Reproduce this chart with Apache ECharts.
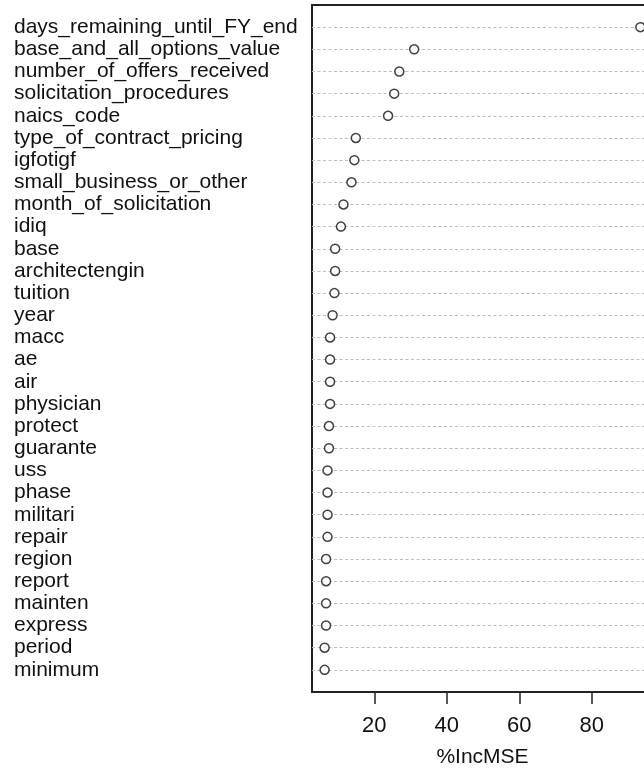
<!DOCTYPE html>
<html>
<head>
<meta charset="utf-8">
<script src="https://cdn.jsdelivr.net/npm/echarts@6/dist/echarts.min.js"></script>
<style>
  html, body { margin: 0; padding: 0; background: #fff; }
  #chart { width: 644px; height: 770px; }
</style>
</head>
<body>
<div id="chart"></div>
<script>
// variable importance (%IncMSE), top to bottom
var labels = [
  'days_remaining_until_FY_end', 'base_and_all_options_value', 'number_of_offers_received',
  'solicitation_procedures', 'naics_code', 'type_of_contract_pricing', 'igfotigf',
  'small_business_or_other', 'month_of_solicitation', 'idiq', 'base', 'architectengin',
  'tuition', 'year', 'macc', 'ae', 'air', 'physician', 'protect', 'guarante', 'uss',
  'phase', 'militari', 'repair', 'region', 'report', 'mainten', 'express', 'period', 'minimum'
];
var values = [
  93.4, 31.0, 26.9, 25.5, 23.8, 14.9, 14.5, 13.7, 11.5, 10.8,
  9.2, 9.2, 9.0, 8.5, 7.8, 7.8, 7.8, 7.8, 7.5, 7.5,
  7.1, 7.1, 7.1, 7.1, 6.7, 6.7, 6.7, 6.7, 6.3, 6.3
];
var xTicks = [20, 40, 60, 80];

(function () {
  // R style range: 4% padding each side
  var lo = Math.min.apply(null, values);
  var hi = Math.max.apply(null, values);
  var pad = (hi - lo) * 0.04;

  // empty rows at both ends, like ylim c(0, n + 1)
  var rows = [''].concat(labels, ['']);
  var points = values.map(function (v, i) { return [v, i + 1]; });

  var font = 'Liberation Sans, Arial, sans-serif';

  var option = {
    animation: false,
    grid: {
      // plot box runs past the right edge of the picture
      left: 312, top: 5, width: 341, height: 687,
      outerBoundsMode: 'none',
      containLabel: false,
      show: true, borderColor: '#222', borderWidth: 2, backgroundColor: 'transparent'
    },
    xAxis: {
      type: 'value',
      min: lo - pad,
      max: hi + pad,
      name: '%IncMSE',
      nameLocation: 'middle',
      nameGap: 55,
      nameTextStyle: { fontSize: 21, color: '#111', fontFamily: font },
      axisLine: { show: false },
      axisTick: {
        show: true, length: 12, customValues: xTicks,
        lineStyle: { color: '#222', width: 1.5 }
      },
      axisLabel: {
        customValues: xTicks, margin: 23,
        fontSize: 22, color: '#111', fontFamily: font
      },
      splitLine: { show: false }
    },
    yAxis: {
      type: 'category',
      data: rows,
      inverse: true,
      boundaryGap: false,
      axisLine: { show: false },
      axisTick: { show: false },
      axisLabel: {
        interval: 0, align: 'left', margin: 298, padding: [3, 0, 0, 0],
        fontSize: 21, color: '#111', fontFamily: font
      },
      splitLine: {
        show: true,
        interval: function (idx) { return idx > 0 && idx < rows.length - 1; },
        lineStyle: { color: '#bebebe', width: 1.2, type: [3, 2.5] }
      }
    },
    series: [{
      type: 'scatter',
      data: points,
      symbol: 'circle',
      symbolSize: 9,
      clip: false,
      itemStyle: { color: '#fff', borderColor: '#111', borderWidth: 1.5 }
    }]
  };

  var myChart = echarts.init(document.getElementById('chart'));
  myChart.setOption(option);
})();
</script>
</body>
</html>
